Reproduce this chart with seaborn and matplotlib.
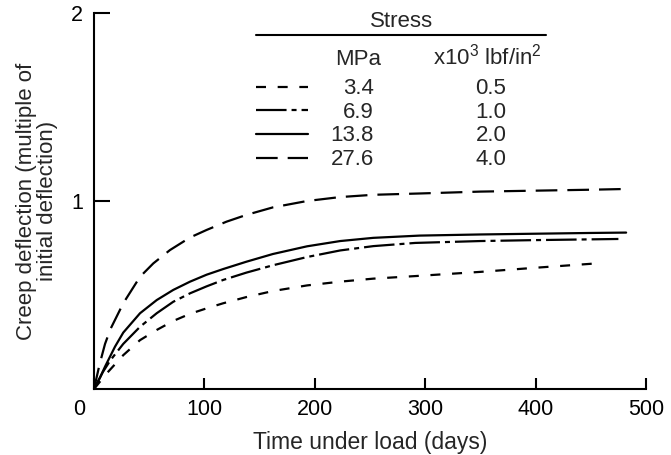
import matplotlib
matplotlib.use("Agg")
import matplotlib.pyplot as plt
import matplotlib.transforms as mtransforms
from matplotlib.lines import Line2D
import seaborn as sns

# --- data ---
mpa_labels = ["3.4", "6.9", "13.8", "27.6"]
psi_labels = ["0.5", "1.0", "2.0", "4.0"]

days_34 = [0, 11.5, 26.5, 41.7, 56.8, 71.8, 87, 102, 117, 138, 162, 193, 223, 253, 292, 350, 400, 455]
defl_34 = [0, 0.083, 0.18, 0.26, 0.314, 0.362, 0.400, 0.429, 0.456, 0.489, 0.521, 0.551, 0.571, 0.587, 0.601, 0.623, 0.645, 0.668]

days_69 = [0, 8, 14.5, 26.5, 41.7, 56.8, 71.8, 87, 102, 117, 138, 162, 193, 223, 253, 291, 350, 400, 450, 475]
defl_69 = [0, 0.09, 0.15, 0.24, 0.331, 0.403, 0.464, 0.509, 0.546, 0.58, 0.619, 0.658, 0.702, 0.737, 0.760, 0.777, 0.787, 0.792, 0.796, 0.798]

days_138 = [0, 5.4, 10, 19, 26.5, 41.7, 56.8, 71.8, 87, 102, 117, 138, 162, 193, 223, 253, 295, 350, 400, 450, 482]
defl_138 = [0, 0.06, 0.119, 0.225, 0.30, 0.403, 0.473, 0.527, 0.571, 0.608, 0.638, 0.677, 0.718, 0.759, 0.787, 0.804, 0.816, 0.822, 0.826, 0.83, 0.832]

days_276 = [0, 5, 10, 15, 26.5, 41.7, 53.7, 68.8, 87, 102, 120, 138, 162, 193, 223, 253, 295, 350, 400, 450, 482]
defl_276 = [0, 0.13, 0.24, 0.32, 0.456, 0.597, 0.668, 0.739, 0.806, 0.846, 0.89, 0.926, 0.966, 1.0, 1.021, 1.033, 1.04, 1.05, 1.055, 1.06, 1.064]

series = [(days_34, defl_34), (days_69, defl_69), (days_138, defl_138), (days_276, defl_276)]
styles = [(0, (7.2, 8.4)),
          (0, (22, 3.6, 3.6, 3.6)),
          "-",
          (0, (15.6, 7.2))]

sns.set_style("ticks")
plt.rcParams["font.family"] = ["Liberation Sans", "DejaVu Sans"]
plt.rcParams["mathtext.fontset"] = "custom"
plt.rcParams["mathtext.rm"] = "Liberation Sans"
plt.rcParams["lines.scale_dashes"] = False
plt.rcParams["xtick.direction"] = "in"
plt.rcParams["ytick.direction"] = "in"

fig = plt.figure(figsize=(6.71, 4.55), dpi=100)
ax = fig.add_axes([94 / 671, 1 - 389 / 455, 552 / 671, 376 / 455])

for (x, y), ls in zip(series, styles):
    sns.lineplot(x=x, y=y, ax=ax, color="black", linewidth=1.6, linestyle=ls)

ax.set_xlim(0, 500)
ax.set_ylim(0, 2)
ax.set_xticks([0, 100, 200, 300, 400, 500])
ax.set_yticks([1, 2])
sns.despine(ax=ax)
for s in ["left", "bottom"]:
    ax.spines[s].set_linewidth(1.5)
    ax.spines[s].set_color("black")
ax.tick_params(axis="x", bottom=True, direction="in", length=8, width=1.5, pad=7,
               labelsize=15.5, color="black", labelcolor="black")
ax.tick_params(axis="y", left=True, direction="in", length=11.5, width=1.5, pad=8,
               labelsize=15.5, color="black", labelcolor="black")

# the "0" label sits left of the origin in the reference
lbl0 = ax.get_xticklabels()[0]
lbl0.set_transform(lbl0.get_transform() + mtransforms.ScaledTranslation(-15 / 100, 0, fig.dpi_scale_trans))

ax.set_xlabel("Time under load (days)", fontsize=16.5, labelpad=8)
ax.set_ylabel("Creep deflection (multiple of\ninitial deflection)", fontsize=16, labelpad=9, linespacing=1.0)

# --- stress key ---
fs = 16
ax.text(0.558, 0.977, "Stress", transform=ax.transAxes, ha="center", va="center", fontsize=fs)
ax.add_line(Line2D([0.293, 0.819], [0.941, 0.941], transform=ax.transAxes, color="black", linewidth=1.5))
ax.text(0.478, 0.862, "MPa", transform=ax.transAxes, ha="center", va="baseline", fontsize=fs)
ax.text(0.712, 0.862, r"x10$^3$ lbf/in$^2$", transform=ax.transAxes, ha="center", va="baseline", fontsize=fs)
row_base = 0.785
row_step = 0.063
for i, (m, p, ls) in enumerate(zip(mpa_labels, psi_labels, styles)):
    yb = row_base - i * row_step
    ax.add_line(Line2D([0.293, 0.388], [yb + 0.019, yb + 0.019], transform=ax.transAxes,
                       color="black", linewidth=1.6, linestyle=ls))
    ax.text(0.507, yb, m, transform=ax.transAxes, ha="right", va="baseline", fontsize=fs)
    ax.text(0.719, yb, p, transform=ax.transAxes, ha="center", va="baseline", fontsize=fs)

fig.savefig("out.png", dpi=100)
